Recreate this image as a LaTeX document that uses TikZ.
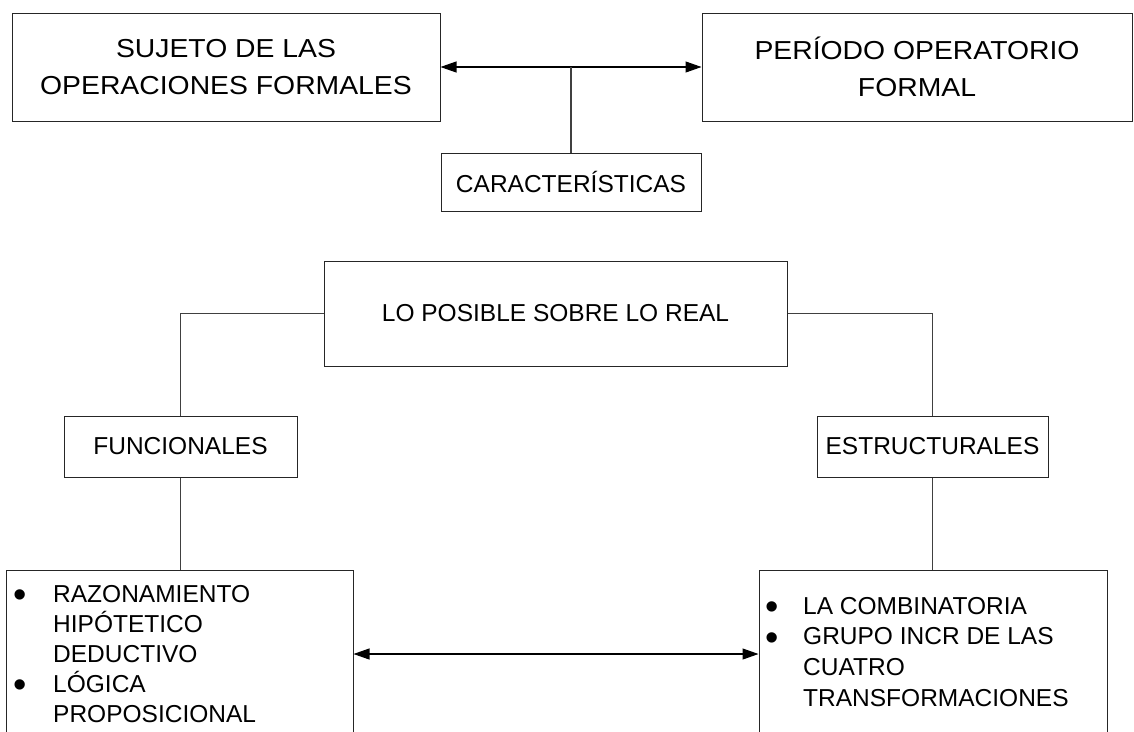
\documentclass[tikz,border=0pt]{standalone}
\usepackage{fontspec}
\setmainfont{Liberation Sans}
\newfontfamily\topfont[FakeStretch=1.09]{Liberation Sans}
\usetikzlibrary{arrows.meta}
\newcommand\myblt[1]{\llap{\smash{\raisebox{-5.5pt}{\fontsize{38}{30}\selectfont •}}\hspace{#1}}}
\begin{document}
\begin{tikzpicture}[x=1pt,y=-1pt,
  box/.style={draw=black!85, line width=1pt, rectangle, inner sep=0pt, align=center},
  conn/.style={draw=black!75, line width=1.2pt},
  arrowline/.style={draw=black, line width=1.1pt},
  dbl/.style={{Triangle[length=16pt,width=11pt]}-{Triangle[length=16pt,width=11pt]}},
  bigtxt/.style={font=\topfont\fontsize{26}{37}\selectfont},
  midtxt/.style={font=\fontsize{24.5}{30}\selectfont},
  listtxt/.style={anchor=north west, inner sep=0pt, align=left}
]
\useasboundingbox (0,0) rectangle (1134,731);
\clip (0,0) rectangle (1134,731);

\node[box, bigtxt, minimum width=428pt, minimum height=108pt] (suj) at (226,67) {SUJETO DE LAS\\OPERACIONES FORMALES};
\node[box, bigtxt, minimum width=430pt, minimum height=108pt] (per) at (917,67) {PERÍODO OPERATORIO\\FORMAL};
\node[box, midtxt, minimum width=260pt, minimum height=58pt] (car) at (571,182) {CARACTERÍSTICAS};
\node[box, midtxt, minimum width=463pt, minimum height=105pt] (lo) at (555.5,313.5) {LO POSIBLE SOBRE LO REAL};
\node[box, midtxt, minimum width=233pt, minimum height=61pt] (fun) at (180.5,446.5) {FUNCIONALES};
\node[box, midtxt, minimum width=231pt, minimum height=61pt] (est) at (932.5,446.5) {ESTRUCTURALES};
\node[box, minimum width=347pt, minimum height=175pt] (bl) at (179.5,657.5) {};
\node[box, minimum width=348pt, minimum height=175pt] (br) at (933,657.5) {};

\node[listtxt, font=\fontsize{24.5}{30}\selectfont] (bltext) at (53,585)
  {\myblt{26pt}RAZONAMIENTO\\HIPÓTETICO\\DEDUCTIVO\\\myblt{26pt}LÓGICA\\PROPOSICIONAL};
\node[listtxt, font=\fontsize{24.5}{30.6}\selectfont] (brtext) at (803,597)
  {\myblt{24pt}LA COMBINATORIA\\\myblt{24pt}GRUPO INCR DE LAS\\CUATRO\\TRANSFORMACIONES};

\coordinate (mid) at (571,67);
\draw[arrowline, dbl] (suj.east) -- (per.west);
\draw[conn] (mid) -- (car.north);
\draw[conn] (lo.west) -| (fun.north);
\draw[conn] (lo.east) -| (est.north);
\draw[conn] (fun.south) -- (fun.south |- bl.north);
\draw[conn] (est.south) -- (est.south |- br.north);
\draw[arrowline, dbl] ([yshift=3.5pt]bl.east) -- ([yshift=3.5pt]br.west);
\end{tikzpicture}
\end{document}
